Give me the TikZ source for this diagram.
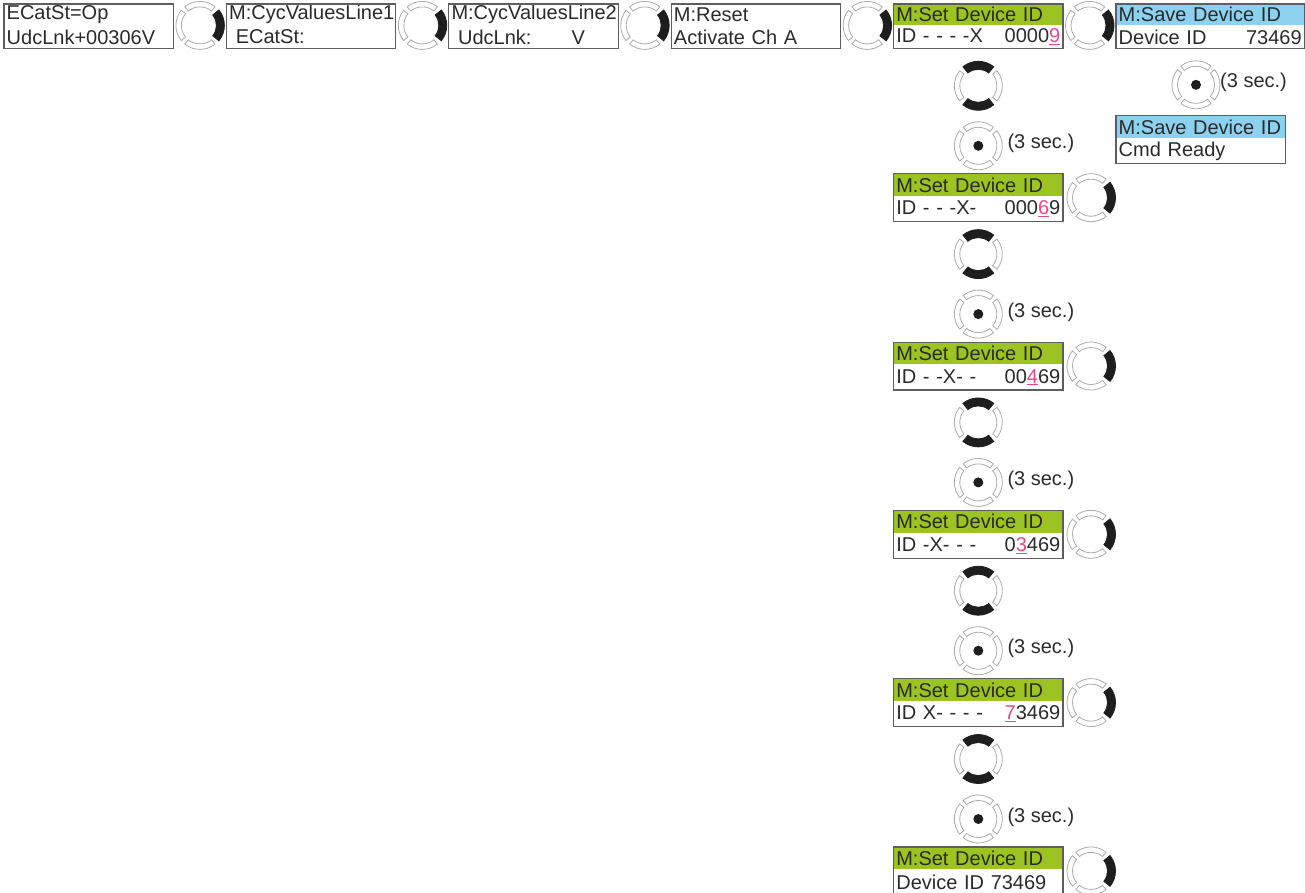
\documentclass[tikz,border=0pt]{standalone}
\usepackage{fontspec}
\setmainfont{Liberation Sans}
\usepackage{xcolor}
\usetikzlibrary{positioning,calc}
\definecolor{lcdink}{HTML}{2A2A2A}
\definecolor{framegray}{HTML}{5E5E5E}
\definecolor{setgreen}{HTML}{9CC420}
\definecolor{saveblue}{HTML}{8DD1F0}
\definecolor{idpink}{HTML}{E6468C}
\definecolor{knobgray}{HTML}{ABABAB}
\definecolor{knobink}{HTML}{1E1E1E}
\newcommand\lcdfont{\fontsize{20}{21}\selectfont}
\newcommand\curdigit[1]{\textcolor{idpink}{\underline{#1}}}
% one quarter of the dial ring: angle, style, outer, inner radius
\newcommand\knobseg[4]{\draw[#2] (#1-39:#3) arc[start angle=#1-39,end angle=#1+39,radius=#3]
  -- (#1+39:#4) arc[start angle=#1+39,end angle=#1-39,radius=#4] -- cycle;}
\tikzset{
  lcdhead/.style ={anchor=north west,minimum width=169pt,text width=164pt,minimum height=21pt,
                   inner xsep=2.5pt,inner ysep=0pt,align=left},
  lcdbody/.style ={lcdhead,minimum height=23pt},
  tallhead/.style={lcdhead,minimum height=22pt},
  tallbody/.style={lcdhead,minimum height=25pt},
  lcdframe/.style={draw=framegray,line width=1.2pt},
  hold/.style    ={anchor=west,inner sep=0pt},
  knobring/.style={draw=knobgray,line width=0.8pt,fill=white},
  knobhot/.style ={draw=knobink,line width=0.8pt,fill=knobink},
  pics/turnright/.style ={code={\knobseg{90}{knobring}{24pt}{18.5pt}\knobseg{180}{knobring}{24pt}{18.5pt}
                                \knobseg{270}{knobring}{24pt}{18.5pt}\knobseg{0}{knobhot}{24.5pt}{16.5pt}}},
  pics/turnupdown/.style={code={\knobseg{0}{knobring}{24pt}{18.5pt}\knobseg{180}{knobring}{24pt}{18.5pt}
                                \knobseg{90}{knobhot}{24.5pt}{16.5pt}\knobseg{270}{knobhot}{24.5pt}{16.5pt}}},
  pics/press/.style     ={code={\knobseg{0}{knobring}{24pt}{18.5pt}\knobseg{90}{knobring}{24pt}{18.5pt}
                                \knobseg{180}{knobring}{24pt}{18.5pt}\knobseg{270}{knobring}{24pt}{18.5pt}
                                \fill[knobink] (0,0) circle[radius=5pt];}}
}

\begin{document}
\begin{tikzpicture}[x=1pt,y=-1pt,every node/.style={font=\lcdfont,text=lcdink}]
  \useasboundingbox (0,0) rectangle (1305,892);
  % menu row
  \node[lcdhead] (cyc0) at (4,4) {ECatSt=Op};
  \node[lcdbody,below=0pt of cyc0] (cyc0b) {UdcLnk+00306V};
  \node[lcdhead,right=53pt of cyc0] (cyc1) {M:CycValuesLine1};
  \node[lcdbody,below=0pt of cyc1] (cyc1b) {\ ECatSt:};
  \node[lcdhead,right=53pt of cyc1] (cyc2) {M:CycValuesLine2};
  \node[lcdbody,below=0pt of cyc2] (cyc2b) {\ UdcLnk:\hspace{40pt}V};
  \node[lcdhead,right=53pt of cyc2] (cyc3) {M:Reset};
  \node[lcdbody,below=0pt of cyc3] (cyc3b) {Activate Ch A};
  \node[lcdhead,fill=setgreen,right=53pt of cyc3] (set0) {M:Set Device ID};
  \node[lcdbody,below=0pt of set0] (set0b) {ID - - - -X\hfill 0000\curdigit{9}};
  \node[lcdhead,fill=saveblue,right=53pt of set0,minimum width=188pt,text width=183pt] (save0) {M:Save Device ID};
  \node[lcdbody,below=0pt of save0,minimum width=188pt,text width=183pt] (save0b) {Device ID\hfill 73469};
  \node[tallhead,fill=saveblue,below=67pt of save0b.south west,anchor=north west] (save1) {M:Save Device ID};
  \node[tallbody,below=0pt of save1] (save1b) {Cmd Ready};
  % digit column
  \node[tallhead,fill=setgreen,below=125pt of set0b] (set1) {M:Set Device ID};
  \node[tallbody,below=0pt of set1] (set1b) {ID - - -X-\hfill 000\curdigit{6}9};
  \node[tallhead,fill=setgreen,below=120.5pt of set1b] (set2) {M:Set Device ID};
  \node[tallbody,below=0pt of set2] (set2b) {ID - -X- -\hfill 00\curdigit{4}69};
  \node[tallhead,fill=setgreen,below=120.5pt of set2b] (set3) {M:Set Device ID};
  \node[tallbody,below=0pt of set3] (set3b) {ID -X- - -\hfill 0\curdigit{3}469};
  \node[tallhead,fill=setgreen,below=120.5pt of set3b] (set4) {M:Set Device ID};
  \node[tallbody,below=0pt of set4] (set4b) {ID X- - - -\hfill \curdigit{7}3469};
  \node[tallhead,fill=setgreen,below=120.5pt of set4b] (set5) {M:Set Device ID};
  \node[tallbody,below=0pt of set5] (set5b) {Device ID 73469};
  \foreach \d in {cyc0,cyc1,cyc2,cyc3,set0,save0,save1,set1,set2,set3,set4,set5}
    \draw[lcdframe] (\d.north west) rectangle (\d b.south east);
  % dial between the menus
  \pic at ($(cyc0b.north east)!0.5!(cyc1b.north west)$) {turnright};
  \pic at ($(cyc1b.north east)!0.5!(cyc2b.north west)$) {turnright};
  \pic at ($(cyc2b.north east)!0.5!(cyc3b.north west)$) {turnright};
  \pic at ($(cyc3b.north east)!0.5!(set0b.north west)$) {turnright};
  \pic at ($(set0b.north east)!0.5!(save0b.north west)$) {turnright};
  \pic at ($(save1.north west)+(80pt,31pt)$) {press};
  \node[hold] (hold0) at ($(save1.north west)+(104pt,33pt)$) {(3 sec.)};
  % dial along the column
  \foreach \d in {set1,set2,set3,set4,set5} {
    \pic at ([yshift=88pt]\d.north) {turnupdown};
    \pic at ([yshift=28pt]\d.north) {press};
    \node[hold] (hold-\d) at ([xshift=29pt,yshift=30pt]\d.north) {(3 sec.)};
    \pic at ($(\d.north east)!0.5!(\d b.south east)+(28pt,0)$) {turnright};
  }
\end{tikzpicture}
\end{document}
